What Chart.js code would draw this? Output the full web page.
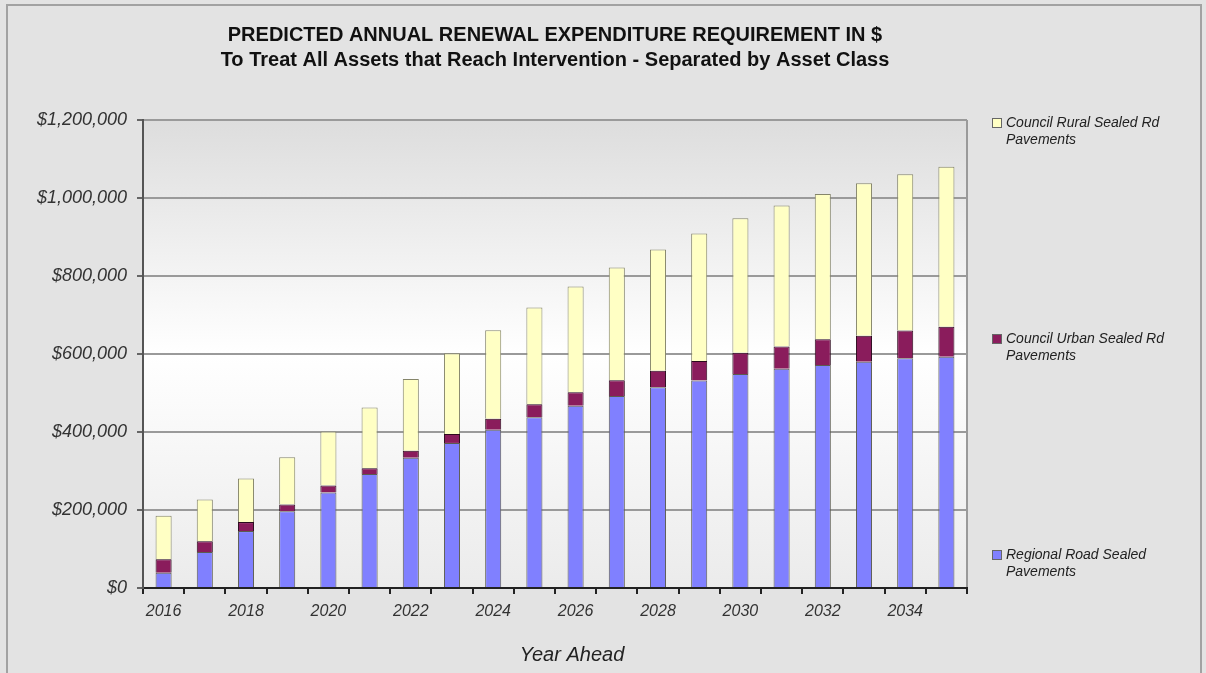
<!DOCTYPE html>
<html>
<head>
<meta charset="utf-8">
<title>Predicted Annual Renewal Expenditure</title>
<script src="https://cdn.jsdelivr.net/npm/chart.js@4.4.1/dist/chart.umd.min.js"></script>
<style>
  html, body { margin: 0; padding: 0; background: #e3e3e3; }
  #wrap { position: relative; width: 1206px; height: 673px; overflow: hidden; }
  #frame { position: absolute; left: 6px; top: 4px; width: 1196px; height: 700px; border: 2px solid #a2a2a2; box-sizing: border-box; pointer-events: none; }
  canvas { position: absolute; left: 0; top: 0; }
</style>
</head>
<body>
<div id="wrap">
  <canvas id="renewalChart"></canvas>
  <div id="frame"></div>
</div>
<script>
/* Renewal expenditure per year, split by asset class ($) */
const years = ['2016', '2017', '2018', '2019', '2020', '2021', '2022', '2023', '2024', '2025',
               '2026', '2027', '2028', '2029', '2030', '2031', '2032', '2033', '2034', '2035'];

const regionalRoad = [39000, 92000, 146000, 197000, 245000, 292000, 334000, 372000, 406000, 438000,
                      467000, 492000, 515000, 532000, 549000, 562000, 572000, 580000, 589000, 593000];

const councilUrban = [35000, 28000, 23000, 17000, 18000, 15000, 18000, 23000, 28000, 33000,
                      35000, 41000, 42000, 50000, 54000, 57000, 66000, 67000, 71000, 77000];

const councilRural = [111000, 107000, 112000, 121000, 138000, 156000, 184000, 207000, 227000, 248000,
                      271000, 289000, 311000, 327000, 345000, 362000, 372000, 391000, 401000, 410000];

const yTicks = [0, 200000, 400000, 600000, 800000, 1000000, 1200000];

const FONT = '"Liberation Sans", Arial, Helvetica, sans-serif';
const fmtDollar = v => '$' + v.toLocaleString('en-US');

// plot background: grey at the top fading to white, slightly grey again at the base
const plotBackground = {
  id: 'plotBackground',
  beforeDraw(chart) {
    const { ctx, chartArea: a } = chart;
    const g = ctx.createLinearGradient(0, a.top, 0, a.bottom);
    g.addColorStop(0, '#dddddd');
    g.addColorStop(0.5, '#ffffff');
    g.addColorStop(1, '#ebebeb');
    ctx.save();
    ctx.fillStyle = g;
    ctx.fillRect(a.left, a.top, a.right - a.left, a.bottom - a.top);
    ctx.strokeStyle = '#9a9a9a';
    ctx.lineWidth = 2;
    ctx.beginPath();
    ctx.moveTo(a.right, a.top);
    ctx.lineTo(a.right, a.bottom);
    ctx.stroke();
    ctx.restore();
  }
};

// legend on the right, entries spread down the plot height, text wrapped
const sideLegend = {
  id: 'sideLegend',
  afterDraw(chart) {
    const { ctx, chartArea: a } = chart;
    const items = chart.data.datasets.slice().reverse();
    const step = (a.bottom - a.top - 36) / 2;
    const x = a.right + 25;
    const maxW = 172;
    ctx.save();
    ctx.font = 'italic 14px ' + FONT;
    ctx.textBaseline = 'middle';
    items.forEach((ds, i) => {
      const y = a.top + 3 + i * step;
      ctx.fillStyle = ds.backgroundColor;
      ctx.fillRect(x, y - 5, 10, 10);
      ctx.strokeStyle = '#666';
      ctx.lineWidth = 1;
      ctx.strokeRect(x + 0.5, y - 4.5, 9, 9);
      // simple word wrap
      const lines = [];
      let cur = '';
      ds.label.split(' ').forEach(w => {
        const t = cur ? cur + ' ' + w : w;
        if (ctx.measureText(t).width > maxW && cur) { lines.push(cur); cur = w; }
        else cur = t;
      });
      if (cur) lines.push(cur);
      ctx.fillStyle = '#222';
      lines.forEach((ln, j) => ctx.fillText(ln, x + 14, y + j * 17));
    });
    ctx.restore();
  }
};

// x axis caption, sits a little right of the plot centre
const axisCaption = {
  id: 'axisCaption',
  afterDraw(chart) {
    const { ctx, chartArea: a } = chart;
    ctx.save();
    ctx.font = 'italic 20px ' + FONT;
    ctx.fillStyle = '#222';
    ctx.textAlign = 'center';
    ctx.textBaseline = 'middle';
    ctx.fillText('Year Ahead', (a.left + a.right) / 2 + 17, a.bottom + 67);
    ctx.restore();
  }
};

const barBorder = '#5c5c50';

new Chart(document.getElementById('renewalChart'), {
  type: 'bar',
  data: {
    labels: years,
    datasets: [
      {
        label: 'Regional Road Sealed Pavements',
        data: regionalRoad,
        backgroundColor: '#8080ff',
        borderColor: barBorder,
        borderWidth: 1
      },
      {
        label: 'Council Urban Sealed Rd Pavements',
        data: councilUrban,
        backgroundColor: '#8a1c5c',
        borderColor: '#2a0a1c',
        borderWidth: 1
      },
      {
        label: 'Council Rural Sealed Rd Pavements',
        data: councilRural,
        backgroundColor: '#ffffc4',
        borderColor: '#85856a',
        borderWidth: 1
      }
    ]
  },
  options: {
    responsive: true,
    maintainAspectRatio: false,
    animation: false,
    categoryPercentage: 1,
    barPercentage: 0.39,
    layout: { padding: { left: 10, right: 239, top: 0, bottom: 0 } },
    plugins: {
      legend: { display: false },
      tooltip: { enabled: false },
      title: {
        display: true,
        fullSize: false,
        text: ['PREDICTED ANNUAL RENEWAL EXPENDITURE REQUIREMENT IN $',
               'To Treat All Assets that Reach Intervention - Separated by Asset Class'],
        color: '#111',
        font: { family: FONT, size: 20, weight: 'bold', lineHeight: 1.25 },
        padding: { top: 23, bottom: 47 }
      }
    },
    scales: {
      x: {
        stacked: true,
        grid: { drawOnChartArea: false, offset: true, tickLength: 6, tickColor: '#222', lineWidth: 2 },
        border: { color: '#222', width: 2 },
        ticks: {
          autoSkip: false,
          maxRotation: 0,
          padding: 8,
          color: '#333',
          font: { family: FONT, size: 16, style: 'italic' },
          callback: (v, i) => (i % 2 === 0 ? years[i] : '')
        },
        afterFit: s => { s.height = 85; }
      },
      y: {
        stacked: true,
        min: 0,
        max: 1200000,
        afterBuildTicks: s => { s.ticks = yTicks.map(v => ({ value: v })); },
        grid: { color: '#9a9a9a', lineWidth: 2, tickLength: 6, tickColor: '#666' },
        border: { color: '#555', width: 2 },
        ticks: {
          padding: 10,
          color: '#333',
          font: { family: FONT, size: 18, style: 'italic' },
          callback: v => fmtDollar(v)
        },
        afterFit: s => { s.width = 133; }
      }
    }
  },
  plugins: [plotBackground, sideLegend, axisCaption]
});
</script>
</body>
</html>
